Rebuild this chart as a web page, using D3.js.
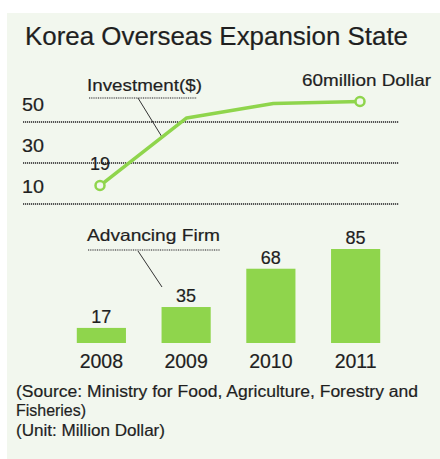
<!DOCTYPE html>
<html>
<head>
<meta charset="utf-8">
<script src="https://cdn.jsdelivr.net/npm/d3@7"></script>
<style>
  html, body { margin: 0; padding: 0; background: #ffffff; }
  svg { display: block; }
  text { font-family: "Liberation Sans", Arial, sans-serif; fill: #1f1f1f; stroke: #1f1f1f; stroke-width: 0.2px; }
</style>
</head>
<body>
<svg id="chart" width="440" height="459"></svg>
<script>
// Korea overseas expansion: investment (line) and advancing firms (bars)
const years = ["2008", "2009", "2010", "2011"];
const investment = [19, 52, 59, 60];
const firms = [17, 35, 68, 85];
const gridTicks = [10, 30, 50];

const svg = d3.select("#chart");
const green = "#8fd54c";
const card = "#f2f7ee";

// background card
svg.append("rect").attr("x", 7).attr("y", 13).attr("width", 433).attr("height", 446).attr("fill", card);

// title
svg.append("text")
  .attr("x", 25).attr("y", 45)
  .attr("font-size", 25)
  .attr("textLength", 383).attr("lengthAdjust", "spacingAndGlyphs")
  .text("Korea Overseas Expansion State");

// scales
const xBand = d3.scaleBand().domain(years).range([59, 398]).paddingInner(0.42).paddingOuter(0.21);
const xPoint = d3.scalePoint().domain(years).range([100, 360]);
const yLine = d3.scaleLinear().domain([10, 50]).range([204, 122]);
const baseline = 343;
const yBar = d3.scaleLinear().domain([4, 85]).range([baseline, baseline - 94]);

// dotted gridlines with value labels
const grid = svg.append("g");
grid.selectAll("line").data(gridTicks).join("line")
  .attr("x1", 23).attr("x2", 399)
  .attr("y1", d => yLine(d)).attr("y2", d => yLine(d))
  .attr("stroke", "#555").attr("stroke-width", 2).attr("stroke-dasharray", "1.2,0.8");
grid.selectAll("text").data(gridTicks).join("text")
  .attr("x", 22).attr("y", d => yLine(d) - 11)
  .attr("font-size", 19)
  .attr("textLength", 22).attr("lengthAdjust", "spacingAndGlyphs")
  .text(d => d);

// investment series label with leader
svg.append("text")
  .attr("x", 87).attr("y", 91).attr("font-size", 16.5)
  .attr("textLength", 115).attr("lengthAdjust", "spacingAndGlyphs")
  .text("Investment($)");
svg.append("line").attr("x1", 89).attr("x2", 197).attr("y1", 98).attr("y2", 98)
  .attr("stroke", "#666").attr("stroke-width", 1.6).attr("stroke-dasharray", "1,0.8");
svg.append("line").attr("x1", 138).attr("y1", 98).attr("x2", 162).attr("y2", 137)
  .attr("stroke", "#333").attr("stroke-width", 1);

// investment line
const pts = years.map((y, i) => [xPoint(y), yLine(investment[i])]);
svg.append("path")
  .attr("d", d3.line()(pts))
  .attr("fill", "none").attr("stroke", green).attr("stroke-width", 3.5)
  .attr("stroke-linejoin", "round");

// end markers
const ends = [0, years.length - 1];
svg.selectAll("circle.end").data(ends).join("circle")
  .attr("class", "end")
  .attr("cx", i => pts[i][0]).attr("cy", i => pts[i][1])
  .attr("r", 4.5).attr("fill", card).attr("stroke", green).attr("stroke-width", 2.5);

// start and end values
svg.append("text")
  .attr("x", pts[0][0]).attr("y", pts[0][1] - 16)
  .attr("text-anchor", "middle").attr("font-size", 18)
  .text(investment[0]);
svg.append("text")
  .attr("x", 302).attr("y", 86).attr("font-size", 16.5)
  .attr("textLength", 129).attr("lengthAdjust", "spacingAndGlyphs")
  .text(investment[investment.length - 1] + "million Dollar");

// advancing firm series label with leader
svg.append("text")
  .attr("x", 87).attr("y", 241).attr("font-size", 16.5)
  .attr("textLength", 133).attr("lengthAdjust", "spacingAndGlyphs")
  .text("Advancing Firm");
svg.append("line").attr("x1", 88).attr("x2", 220).attr("y1", 250).attr("y2", 250)
  .attr("stroke", "#666").attr("stroke-width", 1.6).attr("stroke-dasharray", "1,0.8");
svg.append("line").attr("x1", 138).attr("y1", 251).attr("x2", 162).attr("y2", 287)
  .attr("stroke", "#333").attr("stroke-width", 1);

// bars
svg.selectAll("rect.bar").data(firms).join("rect")
  .attr("class", "bar")
  .attr("x", (d, i) => xBand(years[i]))
  .attr("width", xBand.bandwidth())
  .attr("y", d => yBar(d))
  .attr("height", d => baseline - yBar(d))
  .attr("fill", green);

svg.selectAll("text.val").data(firms).join("text")
  .attr("class", "val")
  .attr("x", (d, i) => xBand(years[i]) + xBand.bandwidth() / 2)
  .attr("y", d => yBar(d) - 5)
  .attr("text-anchor", "middle").attr("font-size", 18)
  .text(d => d);

// year axis labels
svg.selectAll("text.year").data(years).join("text")
  .attr("class", "year")
  .attr("x", d => xBand(d) + xBand.bandwidth() / 2)
  .attr("y", 368)
  .attr("text-anchor", "middle").attr("font-size", 19.5)
  .text(d => d);

// source notes
const notes = [
  { t: "(Source: Ministry for Food, Agriculture, Forestry and", y: 397, w: 402 },
  { t: "Fisheries)", y: 416, w: 70 },
  { t: "(Unit: Million Dollar)", y: 436, w: 149 }
];
svg.selectAll("text.note").data(notes).join("text")
  .attr("class", "note")
  .attr("x", 16).attr("y", d => d.y)
  .attr("font-size", 16)
  .attr("textLength", d => d.w)
  .attr("lengthAdjust", "spacingAndGlyphs")
  .text(d => d.t);
</script>
</body>
</html>
